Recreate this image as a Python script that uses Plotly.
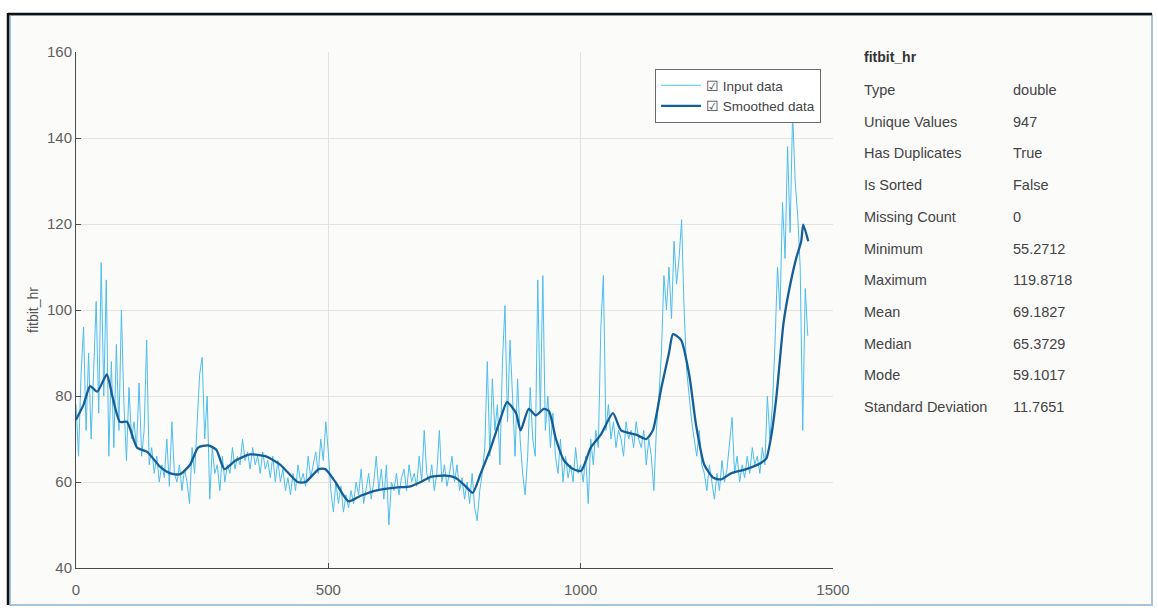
import plotly.graph_objects as go

# ---------------- data ----------------
input_step = 5
input_hr = [
    78, 66, 85, 96, 72, 90, 70, 88, 102, 76,        # 0-45
    111, 80, 107, 66, 88, 68, 92, 72, 100, 78,      # 50-95
    65, 82, 70, 74, 68, 83, 66, 72, 93, 64,         # 100-145
    68, 62, 66, 60, 64, 61, 70, 59, 74, 62,         # 150-195
    60, 64, 58, 63, 60, 55, 68, 62, 74, 85,         # 200-245
    89, 70, 80, 56, 68, 62, 64, 58, 66, 60,         # 250-295
    64, 62, 68, 63, 66, 64, 70, 65, 67, 63,         # 300-345
    68, 64, 66, 62, 67, 63, 65, 61, 66, 60,         # 350-395
    65, 60, 63, 58, 61, 57, 62, 58, 64, 60,         # 400-445
    62, 59, 66, 61, 64, 67, 62, 70, 65, 74,         # 450-495
    67, 58, 53, 60, 55, 59, 53, 57, 54, 58,         # 500-545
    55, 60, 57, 63, 55, 59, 62, 56, 60, 66,         # 550-595
    58, 63, 56, 64, 50, 60, 58, 62, 57, 61,         # 600-645
    63, 58, 64, 60, 62, 59, 66, 60, 72, 62,         # 650-695
    60, 64, 58, 62, 72, 60, 64, 59, 62, 66,         # 700-745
    60, 64, 58, 61, 56, 60, 55, 62, 54, 51,         # 750-795
    58, 62, 68, 88, 66, 84, 72, 78, 64, 88,         # 800-845
    101, 74, 93, 80, 66, 84, 70, 62, 57, 66,        # 850-895
    82, 70, 66, 107, 76, 108, 72, 80, 68, 76,       # 900-945
    66, 62, 70, 60, 66, 61, 64, 60, 68, 62,         # 950-995
    64, 60, 66, 55, 70, 64, 72, 68, 96, 108,        # 1000-1045
    72, 78, 70, 74, 68, 72, 70, 66, 74, 70,         # 1050-1095
    72, 68, 74, 70, 68, 72, 64, 70, 66, 58,         # 1100-1145
    72, 80, 90, 108, 100, 110, 98, 116, 106, 112,   # 1150-1195
    121, 100, 86, 80, 74, 70, 66, 72, 64, 62,       # 1200-1245
    58, 64, 60, 56, 62, 58, 65, 60, 63, 70,         # 1250-1295
    75, 62, 66, 60, 64, 61, 66, 62, 68, 64,         # 1300-1345
    66, 62, 68, 64, 80, 70, 78, 92, 110, 100,       # 1350-1395
    125, 112, 138, 118, 146, 130, 122, 110, 72, 105,  # 1400-1445
    94,                                             # 1450
]
input_x = [i * input_step for i in range(len(input_hr))]

smooth_x = [0, 15, 28, 42, 61, 72, 87, 101, 121, 141, 167, 187, 206, 226, 242,
            262, 278, 294, 316, 345, 375, 405, 439, 455, 481, 494, 514, 540,
            564, 594, 633, 663, 683, 703, 733, 752, 772, 786, 802, 822, 842,
            854, 872, 881, 897, 911, 927, 937, 951, 967, 985, 1001, 1020, 1040,
            1064, 1080, 1110, 1130, 1143, 1160, 1175, 1183, 1199, 1215, 1229,
            1245, 1263, 1278, 1298, 1328, 1358, 1368, 1378, 1388, 1402, 1412,
            1427, 1437, 1441, 1451]
smooth_hr = [74.5, 78, 82.3, 81, 85, 80, 74, 74, 68, 67, 63.5, 62, 61.8, 64, 68,
             68.5, 67.5, 63, 65, 66.4, 66, 64, 60, 60, 63, 63, 60, 55.5,
             56.8, 58, 58.7, 59, 60, 61.2, 61.5, 61, 59, 57.5, 62, 68, 75,
             78.6, 76, 72, 77, 75.5, 77, 76.5, 70, 65, 63, 62.6, 68, 71,
             76, 72, 71, 70, 72, 82, 90, 94.4, 93, 85, 73,
             64, 61, 60.6, 62, 63, 64.5, 65.5, 71, 80, 97, 104,
             112, 116, 119.87, 116]

stat_names = ["Type", "Unique Values", "Has Duplicates", "Is Sorted", "Missing Count",
              "Minimum", "Maximum", "Mean", "Median", "Mode", "Standard Deviation"]
stat_values = ["double", "947", "True", "False", "0", "55.2712", "119.8718",
               "69.1827", "65.3729", "59.1017", "11.7651"]
var_name = "fitbit_hr"

x_ticks = [0, 500, 1000, 1500]
y_ticks = [40, 60, 80, 100, 120, 140, 160]

# ---------------- figure ----------------
W, H = 1158, 608
px = lambda v: v / W
py = lambda v: 1 - v / H

fig = go.Figure()
fig.add_trace(go.Scatter(x=input_x, y=input_hr, mode="lines",
                         name="\u2611 Input data",
                         line=dict(color="#4DBEEE", width=1)))
fig.add_trace(go.Scatter(x=smooth_x, y=smooth_hr, mode="lines",
                         name="\u2611 Smoothed data",
                         line=dict(color="#155f98", width=2.3, shape="spline", smoothing=0.6)))

font_family = "Liberation Sans, Arial, sans-serif"
axis_common = dict(showline=True, linecolor="#4a4a4a", linewidth=1,
                   ticks="inside", ticklen=5, tickcolor="#4a4a4a",
                   showgrid=True, gridcolor="#e3e3e3", gridwidth=1,
                   zeroline=False, automargin=False,
                   tickfont=dict(size=15, color="#5f5f5f", family=font_family))

fig.update_layout(
    width=W, height=H,
    margin=dict(l=0, r=0, t=0, b=0, autoexpand=False),
    paper_bgcolor="white",
    plot_bgcolor="white",
    showlegend=True,
    font=dict(family=font_family, color="#444444"),
    xaxis=dict(domain=[px(76), px(833)], range=[0, 1500], tickvals=x_ticks,
               anchor="y", ticklabelstandoff=8, **axis_common),
    yaxis=dict(domain=[1 - 568 / H, 1 - 52 / H], range=[40, 160], tickvals=y_ticks,
               anchor="x",
               title=dict(text=var_name, font=dict(size=14, color="#555555"), standoff=5),
               **axis_common),
    legend=dict(x=px(821), y=py(69), xanchor="right", yanchor="top",
                bgcolor="white", bordercolor="#6a6a6a", borderwidth=1,
                font=dict(size=13.5, color="#444444", family=font_family),
                tracegroupgap=0, itemwidth=40),
)

# frame
fig.add_shape(type="rect", xref="paper", yref="paper",
              x0=px(10), x1=px(1152), y0=py(605), y1=py(15),
              line=dict(color="#a8c4dd", width=2), fillcolor="#fbfbfa", layer="below")
fig.add_shape(type="line", xref="paper", yref="paper",
              x0=px(8), x1=px(8), y0=py(605), y1=py(13),
              line=dict(color="#111111", width=2.5), layer="below")
fig.add_shape(type="line", xref="paper", yref="paper",
              x0=px(8), x1=px(1152), y0=py(14), y1=py(14),
              line=dict(color="#111111", width=2.5), layer="below")

# stats panel
fig.add_annotation(x=px(862), y=py(57), xref="paper", yref="paper",
                   text="<b>" + var_name + "</b>", showarrow=False,
                   xanchor="left", yanchor="middle",
                   font=dict(size=14, color="#333333", family=font_family))
for i, (n, v) in enumerate(zip(stat_names, stat_values)):
    yy = 90 + i * 31.7
    fig.add_annotation(x=px(862), y=py(yy), xref="paper", yref="paper", text=n,
                       showarrow=False, xanchor="left", yanchor="middle",
                       font=dict(size=14.5, color="#444444", family=font_family))
    fig.add_annotation(x=px(1011), y=py(yy), xref="paper", yref="paper", text=v,
                       showarrow=False, xanchor="left", yanchor="middle",
                       font=dict(size=14.5, color="#444444", family=font_family))

fig.write_html("out.html", config={"displayModeBar": False},
               post_script="document.body.style.margin='0px';document.body.style.overflow='hidden';")
